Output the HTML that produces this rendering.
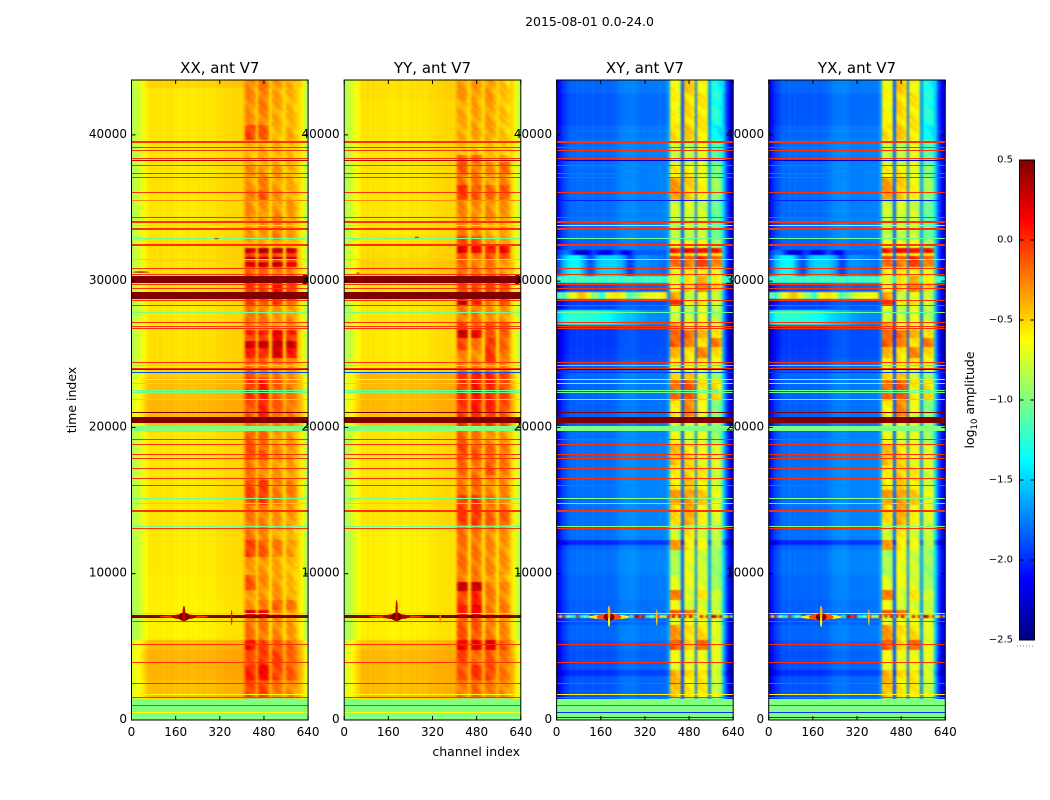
<!DOCTYPE html>
<html lang="en">
<head>
<meta charset="utf-8">
<title>2015-08-01 amplitude waterfall</title>
<style>
html,body{margin:0;padding:0;background:#fff;}
#chart{display:block;width:1050px;height:800px;}
text{font-family:"DejaVu Sans","Liberation Sans",sans-serif;fill:#000;}
</style>
</head>
<body>
<svg id="chart" xmlns="http://www.w3.org/2000/svg" width="1050" height="800" viewBox="0 0 1050 800">
  <defs>
    <filter id="soft" x="-5%" y="-5%" width="110%" height="110%" color-interpolation-filters="sRGB">
      <feGaussianBlur stdDeviation="1.1 0.5"/>
    </filter>
  </defs>
  <rect x="0" y="0" width="1050" height="800" fill="#fff"/>
  <text x="589.5" y="26" font-size="12.5" text-anchor="middle">2015-08-01 0.0-24.0</text>
  <text x="520" y="756" font-size="12.5" text-anchor="end">channel index</text>
  <text transform="translate(76,400) rotate(-90)" font-size="12.5" text-anchor="middle">time index</text>
  <g id="panels"></g>
  <g id="colorbar"></g>
  <text transform="translate(974,400) rotate(-90)" font-size="12.5" text-anchor="middle">log<tspan font-size="8.5" dy="3">10</tspan><tspan dy="-3"> amplitude</tspan></text>
  <line x1="1017" y1="646" x2="1035" y2="646" stroke="#777" stroke-width="1" stroke-dasharray="1 2"/>
</svg>
<script>
// ---- axis limits and ticks ----
const channelMax = 640;
const timeMax = 43750;
const colorMin = -2.5;
const colorMax = 0.5;
const xTicks = [0, 160, 320, 480, 640];
const yTicks = [0, 10000, 20000, 30000, 40000];
const colorTicks = [0.5, 0, -0.5, -1, -1.5, -2, -2.5];
const channelStep = 10;
const textureStep = 200;

// ---- channel profiles (log10 amplitude per 10-channel bin) ----
const parallelProfile = [-0.86,-0.82,-0.77,-0.72,-0.66,-0.6,-0.54,-0.56,-0.53,-0.56,-0.53,-0.57,-0.54,-0.56,-0.54,-0.57,-0.55,-0.58,-0.56,-0.57,-0.54,-0.57,-0.56,-0.57,-0.54,-0.56,-0.54,-0.57,-0.54,-0.56,-0.54,-0.52,-0.54,-0.52,-0.51,-0.52,-0.5,-0.51,-0.5,-0.52,-0.46,0,0,0,0,-0.52,0,0,0,0,-0.52,0,0,0,0,-0.52,0,0,0,0,-0.5,-0.58,-0.7,-0.85];
const crossProfile = [-2.2,-2.05,-1.95,-1.9,-1.85,-1.82,-1.84,-1.8,-1.84,-1.8,-1.84,-1.82,-1.84,-1.8,-1.84,-1.82,-1.82,-1.8,-1.84,-1.82,-1.82,-1.8,-1.78,-1.74,-1.75,-1.72,-1.74,-1.72,-1.74,-1.75,-1.78,-1.77,-1.78,-1.77,-1.77,-1.76,-1.77,-1.76,-1.77,-1.76,-1.65,0,0,0,0,-1.88,0,0,0,0,-1.78,0,0,0,0,-1.68,0,0,0,0,-1.5,-1.9,-2.1,-2.25];

// ---- small hand-read modulation of the resonant bands (streak pattern) ----
const bandTexture = [0.06, 0.03, -0.02, -0.08, -0.05, 0.02, 0.05, -0.03];
const bandShape = [0.03, 0.05, 0.02, -0.04];
const panelBandTrim = [-0.05, -0.05, 0, 0];

// ---- time bands: [lower time edge, left offset, band1, band2, band3, band4] ----
const xxBands = [
[43200,0.05,-0.22,-0.2,-0.3,-0.35],[41700,0,-0.25,-0.22,-0.33,-0.38],[40674,0,-0.28,-0.25,-0.35,-0.38],[39649,0,-0.03,-0.12,-0.38,-0.35],
[37940,0,-0.38,-0.36,-0.38,-0.4],[37050,0,-0.25,-0.28,-0.3,-0.36],[36231,0.01,-0.3,-0.22,-0.32,-0.36],[35547,0,-0.2,-0.1,-0.28,-0.36],
[34522,0,-0.26,-0.28,-0.3,-0.3],[32813,0,-0.3,-0.28,-0.22,-0.32],[32266,0.03,-0.35,-0.35,-0.38,-0.38],[31924,0.02,0.32,0.38,0.36,0.3],
[31650,0.02,-0.05,-0.05,-0.05,-0.05],[31446,0.02,0.32,0.38,0.36,0.3],[31309,0.02,-0.1,-0.1,-0.1,-0.1],[30967,0.02,0.25,0.3,0.3,0.22],
[30352,0.02,-0.1,-0.15,-0.2,-0.25],[28711,0,0,-0.05,0.1,0],[28369,0,-0.03,-0.1,0,-0.2],[27686,0,-0.2,-0.22,-0.3,-0.3],
[27002,0,-0.15,-0.2,-0.28,-0.25],[26660,0,-0.3,-0.3,-0.35,-0.35],[26319,0.02,0.05,0.1,0.2,0.1],[25909,0.02,-0.05,-0.05,0.15,0],
[25430,0.02,0.3,0.3,0.35,0.3],[24746,0.02,0.05,0.05,0.25,0.1],[24474,0.02,-0.12,-0.15,-0.2,-0.2],[23790,0.02,-0.15,-0.2,-0.25,-0.3],
[23379,0.08,-0.1,-0.15,-0.22,-0.28],[21875,0.12,0,0.08,-0.12,-0.2],[20508,0.14,-0.08,0.05,-0.12,-0.2],[19688,0.1,-0.2,-0.2,-0.25,-0.25],
[18457,0,-0.1,-0.15,-0.3,-0.3],[17774,0,-0.05,-0.1,-0.25,-0.28],[16406,0,-0.2,-0.25,-0.3,-0.32],[14697,0,-0.05,-0.02,-0.22,-0.22],
[13193,0,-0.2,-0.22,-0.3,-0.3],[12305,-0.01,-0.2,-0.25,-0.35,-0.4],[11143,-0.01,-0.02,-0.12,-0.22,-0.3],[9912,-0.01,-0.3,-0.3,-0.35,-0.4],
[8887,-0.02,-0.1,-0.25,-0.3,-0.4],[8203,-0.02,-0.3,-0.3,-0.3,-0.35],[7520,-0.03,-0.28,-0.22,-0.12,-0.2],[6973,-0.03,0.25,0.2,-0.25,-0.3],
[5469,-0.03,-0.18,-0.2,-0.25,-0.3],[4785,0.12,0.15,-0.05,-0.1,-0.15],[3760,0.15,-0.08,0,-0.05,-0.15],[2734,0.15,0.05,0.15,-0.05,-0.12],
[1500,0.12,-0.05,-0.05,-0.2,-0.25],[0,0,-1,-1,-1,-1]];

const yyBands = [
[42383,0.02,-0.3,-0.3,-0.3,-0.42],[39649,0,-0.35,-0.33,-0.32,-0.42],[38623,0,-0.42,-0.42,-0.42,-0.45],[38140,0,-0.15,-0.15,-0.35,-0.35],
[37256,0,-0.1,-0.2,-0.25,-0.15],[36572,0,-0.2,-0.2,-0.3,-0.25],[35547,0,0,-0.1,-0.15,-0.1],[34180,0,-0.25,-0.25,-0.25,-0.28],
[33086,0,-0.22,-0.25,-0.35,-0.35],[32471,0.01,-0.05,-0.05,-0.3,-0.3],[31924,0.02,0.25,0.15,0.1,0.15],[31446,0.03,-0.1,-0.2,-0.05,-0.1],
[30420,0.06,-0.15,-0.2,-0.2,-0.3],[28711,0,-0.05,-0.05,-0.05,-0.05],[28369,0,0.3,0.1,-0.2,-0.1],[27208,0,-0.2,-0.2,-0.28,-0.28],
[26660,-0.01,-0.05,-0.15,-0.05,-0.15],[26114,-0.01,0.3,0.2,-0.1,-0.1],[25293,-0.01,-0.05,-0.2,0,-0.15],[24474,-0.01,-0.25,-0.25,0,-0.2],
[23790,-0.01,-0.2,-0.22,-0.2,-0.25],[21055,0.13,0,0.1,0.05,-0.05],[19824,0.1,0,0,0,-0.1],[18799,0,-0.12,-0.2,-0.25,-0.3],
[17774,0,-0.05,-0.1,-0.15,-0.2],[16748,0,-0.15,-0.2,-0.1,-0.2],[15381,0,-0.2,-0.15,-0.25,-0.25],[14356,0,-0.02,0,-0.18,-0.2],
[13330,0,-0.02,0,-0.12,-0.12],[9912,-0.03,-0.18,-0.2,-0.25,-0.28],[9434,-0.03,-0.22,-0.22,-0.3,-0.35],[8818,-0.03,0.28,0.32,-0.2,-0.25],
[7861,-0.03,-0.05,0.05,-0.2,-0.25],[6973,-0.03,0.05,0.2,-0.2,-0.2],[5469,-0.03,-0.1,-0.1,-0.2,-0.25],[4785,0.1,0.2,0.2,0.25,-0.1],
[3760,0.13,-0.05,-0.15,-0.1,-0.2],[2734,0.13,-0.1,0,-0.05,-0.2],[1500,0.12,-0.2,-0.15,-0.2,-0.25],[0,0,-1,-1,-1,-1]];

const crossBands = [
[42862,0,-0.65,-0.5,-0.65,-1.35],[40674,-0.04,-0.65,-0.55,-0.6,-1.3],[39649,0,-0.55,-0.5,-0.6,-1.4],[37940,0.02,-0.8,-0.85,-0.7,-1.15],
[37050,0.02,-0.6,-0.6,-0.75,-1.0],[35547,0.02,-0.35,-0.5,-0.65,-0.95],[34317,0.02,-0.8,-0.75,-0.8,-1.1],[32813,0.03,-0.85,-0.85,-0.8,-1.1],
[32266,0,-0.7,-0.7,-0.7,-0.9],[31924,0,0.05,0.1,0.1,0.05],[31719,0,-0.6,-0.6,-0.6,-0.6],[31446,0,-0.1,-0.15,0,-0.2],
[30967,0,-0.2,-0.25,-0.1,-0.25],[30352,0,-0.6,-0.6,-0.6,-0.7],[29258,-0.05,-0.7,-0.5,-0.3,-0.5],[28711,-0.05,-0.35,-0.85,-0.7,-0.85],
[28369,-0.12,-0.05,-0.6,-0.6,-0.8],[27208,-0.08,-0.75,-0.8,-0.7,-0.85],[26660,-0.08,-0.4,-0.7,-0.6,-0.75],[26114,-0.13,-0.2,-0.2,-0.45,-0.55],
[25498,-0.13,-0.15,-0.3,-0.55,-0.25],[24746,-0.12,-0.45,-0.55,-0.3,-0.55],[24474,-0.1,-0.6,-0.6,-0.6,-0.65],[23790,-0.03,-0.75,-0.7,-0.7,-0.8],
[23242,0,-0.55,-0.45,-0.8,-0.95],[21875,0,-0.2,-0.15,-0.6,-0.55],[20713,-0.02,-0.6,-0.3,-0.7,-1.0],[19688,0,-0.8,-0.7,-0.8,-0.95],
[18799,0.03,-0.65,-0.8,-0.7,-0.95],[17432,0.03,-0.45,-0.55,-0.7,-0.75],[15723,0.03,-0.6,-0.5,-0.6,-0.8],[14697,0.03,-0.35,-0.35,-0.5,-0.7],
[13330,0.03,-0.55,-0.4,-0.65,-0.75],[12305,0.03,-0.8,-0.6,-0.75,-0.85],[11963,-0.2,-0.35,-0.6,-0.7,-0.85],[11621,0,-0.35,-0.6,-0.7,-0.85],
[9912,0.03,-0.9,-0.7,-0.8,-0.95],[8887,0,-0.75,-0.7,-0.75,-0.95],[8203,0,-0.25,-0.75,-0.6,-0.75],[7520,-0.02,-0.7,-0.8,-0.75,-0.85],
[7178,-0.02,-0.15,-0.2,-0.7,-0.8],[6494,-0.06,-0.7,-0.7,-0.7,-0.75],[5469,0,-0.35,-0.55,-0.55,-0.75],[4785,-0.04,-0.15,-0.55,-0.2,-0.7],
[3418,-0.06,-0.7,-0.7,-0.7,-0.75],[3000,-0.16,-0.4,-0.55,-0.55,-0.8],[1500,-0.05,-0.45,-0.6,-0.6,-0.8],[0,0,-1,-1,-1,-1]];

// ---- full-row cross-hand overrides (left 40 bins, or all 64) ----
const crossArcVals = [-2.0,-1.9,-1.8,-1.75,-1.8,-1.9,-2.05,-2.2,-2.25,-2.3,-2.25,-2.15,-2.0,-1.95,-2.0,-2.1,-2.2,-2.25,-2.2,-2.1,-2.0,-1.9,-1.95,-2.05,-2.15,-2.2,-2.1,-1.95,-1.85,-1.85,-1.85,-1.85,-1.85,-1.85,-1.85,-1.85,-1.85,-1.85,-1.85,-1.85];
const crossBlobVals = [-1.95,-1.8,-1.6,-1.5,-1.42,-1.38,-1.35,-1.38,-1.42,-1.55,-1.7,-1.85,-1.9,-1.8,-1.65,-1.55,-1.5,-1.5,-1.5,-1.5,-1.5,-1.5,-1.55,-1.6,-1.7,-1.85,-1.95,-1.9,-1.75,-1.7,-1.7,-1.7,-1.7,-1.72,-1.75,-1.75,-1.75,-1.78,-1.8,-1.8];
const crossGreenVals = [-1.6,-1.45,-1.35,-1.3,-1.25,-1.25,-1.25,-1.25,-1.25,-1.25,-1.27,-1.27,-1.27,-1.28,-1.3,-1.3,-1.32,-1.32,-1.35,-1.38,-1.42,-1.45,-1.48,-1.5,-1.52,-1.55,-1.55,-1.55,-1.58,-1.6,-1.65,-1.65,-1.68,-1.7,-1.7,-1.7,-1.72,-1.72,-1.72,-1.72];
const crossSpeckleVals = [-1.35,-1.15,-1.3,-1.1,-1.25,-1.2,-1.3,-1.15,-1.2,-1.1,-1.25,-1.15,-1.3,-1.2,-1.1,-1.25,-1.15,-1.3,-1.2,-1.15,-1.25,-1.1,-1.2,-1.3,-1.15,-1.25,-1.1,-1.2,-1.3,-1.15,-1.25,-1.2,-1.1,-1.3,-1.15,-1.2,-1.25,-1.1,-1.2,-1.3,-0.9,-0.75,-0.7,-0.75,-0.8,-1.4,-0.55,-0.5,-0.55,-0.6,-1.4,-0.35,-0.35,-0.4,-0.5,-1.3,-0.6,-0.55,-0.65,-0.7,-1.1,-1.2,-1.3,-1.4];
const crossYellowVals = [-1.3,-1,-1.3,-0.9,-0.8,-0.7,-0.6,-0.5,-0.42,-0.42,-0.5,-0.6,-0.8,-1,-0.9,-1.1,-1.3,-1,-0.7,-0.6,-0.55,-0.55,-0.55,-0.6,-0.7,-1,-1.2,-1,-1.05,-0.9,-0.85,-0.7,-0.7,-0.68,-0.66,-0.65,-0.63,-0.62,-0.6,-0.55];
const crossEventVals = [0.3,-0.8,0.2,-1.3,-0.6,-1.4,-1.2,0.1,-1.5,-1.3,-0.9,-1.4,0.3,0.4,-1.4,-1.1,-0.5,0.05,0.4,0.5,0.4,0.05,-0.6,-1.3,-1.4,0.1,-1.5,-1.2,0.3,0.35,-0.1,0.3,-1.3,-1.4,-0.8,-1.2,0.1,-0.6,-1.1,-0.7,0.2,-0.8,0.35,-0.6,0.3,-1.5,0.4,-0.6,0.35,-0.5,-1.4,-0.6,0.2,-0.7,0.3,-1.2,0.35,0.2,-0.6,0.2,-1.1,-0.9,0.2,-1.3];
const crossOverrides = [
  [32129, 31787, crossArcVals],
  [31787, 30352, crossBlobVals],
  [30352, 29850, crossSpeckleVals],
  [29260, 28790, crossYellowVals],
  [28028, 27020, crossGreenVals],
  [7200, 6960, crossEventVals]
];

// ---- horizontal event rows: [time, thickness, parallel value, cross value] ----
const lineEvents = [
[730,1460,-1,-1],
[39550,120,-0.02,-0.02],[39120,70,-0.02,-0.02],[38940,70,-0.02,-0.02],[38370,70,-0.02,-0.02],[38280,60,0.3,-2.2],
[37920,70,-0.02,-0.02],[37370,70,-0.02,-0.02],[37100,70,-0.02,-0.02],[36070,70,-0.02,-0.02],[35530,60,-0.28,-2.05],
[34360,70,-0.02,-0.02],[34090,110,-0.02,-0.02],[33840,50,-1,-0.75],[33610,110,-0.02,-0.02],[32930,60,-1.05,-1.05],
[32470,170,-0.02,-0.02],[31490,60,-1.05,-1.05],[30880,70,-0.02,-0.02],[30470,70,-0.02,-0.02],[30100,500,0.5,null],
[29740,70,-0.02,-0.02],[29530,70,-0.02,-0.02],[29025,470,0.5,null],[28660,70,-0.02,-0.02],[28300,90,-0.02,-0.02],
[27870,60,-1.05,-1.05],[27190,70,-0.02,-0.02],[26890,70,-0.02,-0.02],[26730,70,-0.02,-0.02],[24450,70,-0.02,-0.02],
[24250,60,-1.05,-1.3],[24040,70,-0.02,-0.02],[23930,60,0.3,-2.2],[23770,60,-1.9,-1.95],[23260,60,-0.7,-0.9],
[23020,60,-1.05,-1.05],[22540,60,-1.05,-1.05],[22400,60,-1.05,-1.05],[21920,60,-1.1,-1.15],[21030,70,0.5,0.5],
[20515,400,0.5,0.5],[20100,60,-1,-1],[19885,250,-1,-1],[19140,70,-0.02,-0.02],[18850,70,-0.02,-0.02],
[18160,70,-0.02,-0.02],[17890,70,-0.02,-0.02],[17210,70,-0.02,-0.02],[16520,70,-0.02,-0.02],[16060,70,-0.02,-0.02],
[15160,60,-1.05,-1.0],[14810,60,-1.1,-1.15],[14310,110,-0.02,-0.02],[13240,60,-1.05,-1.0],[13110,70,-0.02,-0.02],
[7280,60,-1.05,-0.9],[7060,180,0.5,null],[6750,70,-0.02,-0.02],[5170,70,-0.02,-0.02],[3940,70,-0.02,-0.02],
[2510,70,-0.02,-0.02],[1730,60,-0.6,-0.6],[1570,70,-0.02,-0.02],[1000,60,-0.02,-0.02],[530,60,-0.62,-2],[160,60,-0.7,-2]
];

// ---- localized features: [channel, time, channel radius, time radius, value] ----
const xxSpots = [[190,7060,90,90,-0.05],[190,7060,46,170,0.35],[190,7060,20,290,0.5],[190,7300,5,500,0.3],[363,7000,2.5,520,0.1],[308,32900,8,30,0.4],[35,30620,30,45,0.4]];
const yySpots = [[190,7060,100,90,-0.05],[190,7060,50,170,0.35],[190,7060,20,290,0.5],[190,7500,4,700,0.3],[348,6900,3,300,-0.25],[263,33000,8,40,0.1],[50,30550,6,40,0.1]];
const crossSpots = [[190,7040,75,160,-0.6],[190,7040,45,230,-0.1],[190,7040,20,260,0.5],[190,7300,5,520,-0.4],[190,6700,4,340,-0.6],[363,7000,3,560,-0.45],[268,32930,7,35,-0.5]];

// ---- panels ----
const panelTitles = ["XX, ant V7", "YY, ant V7", "XY, ant V7", "YX, ant V7"];
const panelLeft = [131.5, 344.2, 556.6, 768.7];
const panelWidth = 176.6;
const plotTop = 80;
const plotBottom = 720;
const panelBands = [xxBands, yyBands, crossBands, crossBands];
const panelProfiles = [parallelProfile, parallelProfile, crossProfile, crossProfile];
const panelSpots = [xxSpots, yySpots, crossSpots, crossSpots];
const panelIsCross = [false, false, true, true];
const bandOfBin = [-1,-1,-1,-1,-1,-1,-1,-1,-1,-1,-1,-1,-1,-1,-1,-1,-1,-1,-1,-1,-1,-1,-1,-1,-1,-1,-1,-1,-1,-1,-1,-1,-1,-1,-1,-1,-1,-1,-1,-1,-1,0,0,0,0,-1,1,1,1,1,-1,2,2,2,2,-1,3,3,3,3,-1,-1,-1,-1];
const binInBand = [0,0,0,0,0,0,0,0,0,0,0,0,0,0,0,0,0,0,0,0,0,0,0,0,0,0,0,0,0,0,0,0,0,0,0,0,0,0,0,0,0,0,1,2,3,0,0,1,2,3,0,0,1,2,3,0,0,1,2,3,0,0,0,0];

const NS = "http://www.w3.org/2000/svg";
function clamp01(v) { return Math.max(0, Math.min(1, v)); }
function jet(v) {
  const x = clamp01((v - colorMin) / (colorMax - colorMin));
  const r = Math.round(255 * clamp01(1.5 - Math.abs(4 * x - 3)));
  const g = Math.round(255 * clamp01(1.5 - Math.abs(4 * x - 2)));
  const b = Math.round(255 * clamp01(1.5 - Math.abs(4 * x - 1)));
  return "rgb(" + r + "," + g + "," + b + ")";
}
function yScale(t) { return plotBottom - (t / timeMax) * (plotBottom - plotTop); }
function xScale(p, ch) { return panelLeft[p] + (ch / channelMax) * panelWidth; }
function make(parent, tag, attrs) {
  const el = document.createElementNS(NS, tag);
  for (const k in attrs) el.setAttribute(k, attrs[k]);
  parent.appendChild(el);
  return el;
}
function cell(parent, p, c0, c1, t0, t1, v) {
  // cells on the plot boundary bleed outward; the axes clip trims them after the soft filter
  const x0 = Math.round(xScale(p, c0)) - (c0 === 0 ? 5 : 0);
  const x1 = Math.round(xScale(p, c1)) + (c1 >= channelMax ? 5 : 0);
  const y0 = Math.round(yScale(t1)) - (t1 >= timeMax ? 5 : 0);
  const y1 = Math.round(yScale(t0)) + (t0 <= 0 ? 5 : 0);
  if (y1 <= y0) return null;
  const el = make(parent, "rect", {x: x0, y: y0, width: Math.max(1, x1 - x0), height: y1 - y0, fill: jet(v)});
  
  
  return el;
}

const svgDefs = document.querySelector("#chart defs");
const root = document.getElementById("panels");
panelTitles.forEach(function (title, p) {
  const clip = make(svgDefs, "clipPath", {id: "axes-clip-" + p});
  make(clip, "rect", {x: panelLeft[p], y: plotTop, width: panelWidth, height: plotBottom - plotTop});

  const g = make(root, "g", {});
  
  
  const clipped = make(g, "g", {"clip-path": "url(#axes-clip-" + p + ")"});
  
  
  const hm = make(clipped, "g", {"shape-rendering": "crispEdges", filter: "url(#soft)"});
  
  
  const rows = make(clipped, "g", {"shape-rendering": "crispEdges"});
  
  

  // background time bands
  let top = timeMax;
  panelBands[p].forEach(function (row) {
    for (let c = 0; c < panelProfiles[p].length; c++) {
      const bi = bandOfBin[c];
      if (bi < 0) {
        cell(hm, p, c * channelStep, (c + 1) * channelStep, row[0], top, panelProfiles[p][c] + row[1]);
      } else {
        // subdivide resonant-band cells in time to carry the streak pattern
        let k = Math.floor(row[0] / textureStep);
        for (let t = row[0]; t < top; t += textureStep) {
          const tex = bandTexture[(k + c) % bandTexture.length];
          const v = row[2 + bi] + panelBandTrim[p] + bandShape[binInBand[c]] + tex;
          cell(hm, p, c * channelStep, (c + 1) * channelStep, t, Math.min(top, t + textureStep), v);
          k++;
        }
      }
    }
    top = row[0];
  });

  // cross-hand full-row overrides
  if (panelIsCross[p]) {
    crossOverrides.forEach(function (o) {
      o[2].forEach(function (v, c) {
        cell(hm, p, c * channelStep, (c + 1) * channelStep, o[1], o[0], v);
      });
    });
  }

  // event rows
  lineEvents.forEach(function (ev) {
    const v = panelIsCross[p] ? ev[3] : ev[2];
    if (v === null) return;
    const el = make(rows, "rect", {
      x: Math.round(xScale(p, 0)) - 1,
      y: Math.round(yScale(ev[0] + ev[1] / 2)),
      width: Math.round(xScale(p, channelMax)) - Math.round(xScale(p, 0)) + 2,
      height: Math.max(1, Math.round((ev[1] / timeMax) * (plotBottom - plotTop))),
      fill: jet(v)
    });
    
    
  });

  // localized RFI features
  panelSpots[p].forEach(function (s) {
    const el = make(clipped, "ellipse", {
      cx: xScale(p, s[0]), cy: yScale(s[1]),
      rx: (s[2] / channelMax) * panelWidth,
      ry: (s[3] / timeMax) * (plotBottom - plotTop),
      fill: jet(s[4])
    });
    
    
  });

  // frame
  const frame = make(g, "rect", {x: panelLeft[p], y: plotTop, width: panelWidth, height: plotBottom - plotTop, fill: "none", stroke: "#000", "stroke-width": 1});
  
  

  // x ticks
  xTicks.forEach(function (tick) {
    const x = xScale(p, tick);
    const b = make(g, "line", {x1: x, y1: plotBottom, x2: x, y2: plotBottom - 4, stroke: "#000", "stroke-width": 1});
    
    
    const t = make(g, "line", {x1: x, y1: plotTop, x2: x, y2: plotTop + 4, stroke: "#000", "stroke-width": 1});
    
    
    const lab = make(g, "text", {x: x, y: 736, "font-size": 12, "text-anchor": "middle"});
    
    
    lab.textContent = String(tick);
  });

  // y ticks
  yTicks.forEach(function (tick) {
    const y = yScale(tick);
    const l = make(g, "line", {x1: panelLeft[p], y1: y, x2: panelLeft[p] + 4, y2: y, stroke: "#000", "stroke-width": 1});
    
    
    const r = make(g, "line", {x1: panelLeft[p] + panelWidth, y1: y, x2: panelLeft[p] + panelWidth - 4, y2: y, stroke: "#000", "stroke-width": 1});
    
    
    const lab = make(g, "text", {x: panelLeft[p] - 4.5, y: y + 3, "font-size": 12, "text-anchor": "end"});
    
    
    lab.textContent = String(tick);
  });

  const tt = make(g, "text", {x: panelLeft[p] + panelWidth / 2, y: 73, "font-size": 15, "text-anchor": "middle"});
  
  
  tt.textContent = title;
});

// ---- colorbar ----
const cbRoot = document.getElementById("colorbar");
const cbLeft = 1019.5, cbRight = 1034.5, cbTop = 160, cbBottom = 640;
function cbScale(v) { return cbBottom - ((v - colorMin) / (colorMax - colorMin)) * (cbBottom - cbTop); }
const cbGrad = make(cbRoot, "g", {"shape-rendering": "crispEdges"});


const cbSteps = 240;
for (let i = 0; i < cbSteps; i++) {
  const v = colorMin + (i + 0.5) * (colorMax - colorMin) / cbSteps;
  const y1 = cbScale(colorMin + i * (colorMax - colorMin) / cbSteps);
  const seg = make(cbGrad, "rect", {x: cbLeft, y: y1 - 2, width: cbRight - cbLeft, height: 2, fill: jet(v)});
  
  
}
const cbFrame = make(cbRoot, "rect", {x: cbLeft, y: cbTop, width: cbRight - cbLeft, height: cbBottom - cbTop, fill: "none", stroke: "#000", "stroke-width": 1});


colorTicks.forEach(function (tick) {
  const y = cbScale(tick);
  const a = make(cbRoot, "line", {x1: cbLeft, y1: y, x2: cbLeft + 4, y2: y, stroke: "#000", "stroke-width": 1});
  
  
  const b = make(cbRoot, "line", {x1: cbRight, y1: y, x2: cbRight - 4, y2: y, stroke: "#000", "stroke-width": 1});
  
  
  const lab = make(cbRoot, "text", {x: 1013, y: y + 2.5, "font-size": 10, "text-anchor": "end"});
  
  
  lab.textContent = (tick < 0 ? "\u2212" : "") + Math.abs(tick).toFixed(1);
});
</script>
</body>
</html>
